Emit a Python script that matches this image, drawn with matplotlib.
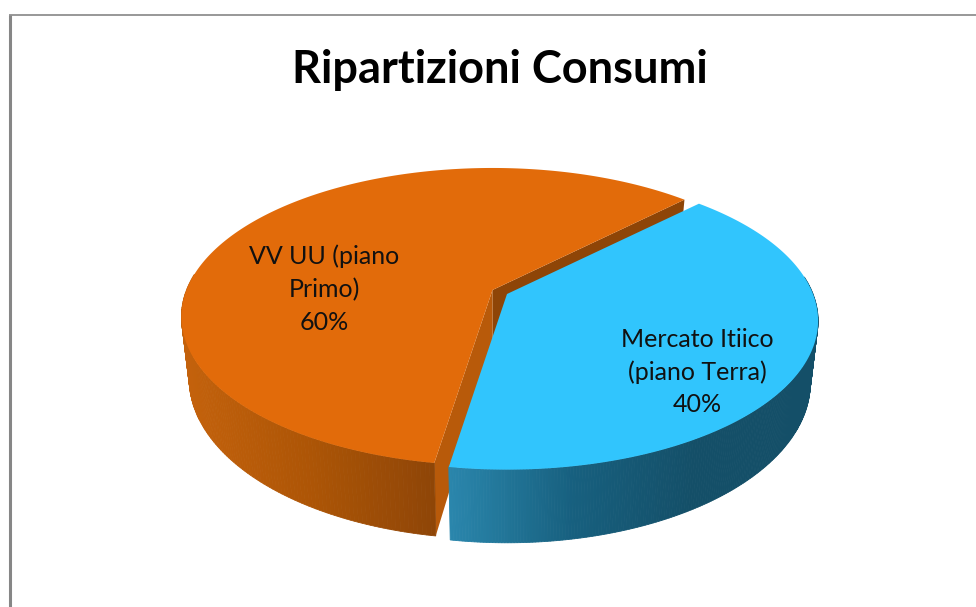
import matplotlib
matplotlib.use('Agg')
import matplotlib.pyplot as plt
from matplotlib.colors import LinearSegmentedColormap
import numpy as np

categories = ['VV UU (piano\nPrimo)', 'Mercato Itiico\n(piano Terra)']
values = [60, 40]
title = 'Ripartizioni Consumi'

plt.rcParams['font.family'] = ['Lato', 'DejaVu Sans']

top_colors = ['#E26B0A', '#31C5FD']
cut_colors = ['#B85A0A', '#1A6786']
back_color = '#8E4507'
side_maps = [
    LinearSegmentedColormap.from_list('o', ['#C4620C', '#AD5506', '#8E4507']),
    LinearSegmentedColormap.from_list('b', ['#2A86AC', '#17607F', '#144F68', '#144F68']),
]
apexes = [(492.5, 290), (507, 294)]
label_pos = [(324, 289), (697, 372)]

RX, RY, K, DEPTH = 306, 144, 0.18, 60
SHRINK = 0.025  # il disco di sotto e' un po' piu' stretto
start = 45


def project(angle, apex, drop=0.0):
    # disco in prospettiva: il fronte e' piu' grande del retro
    a = np.radians(angle)
    u, v = np.cos(a), np.sin(a)
    s = 1 / (1 + K * v)
    x = apex[0] + RX * u * s * (1 - SHRINK * drop)
    y = apex[1] - RY * v * s + drop * DEPTH * s
    return x, y


fig = plt.figure(figsize=(9.76, 6.07), dpi=100)
ax = fig.add_axes([0, 0, 1, 1])
ax.set_xlim(0, 976)
ax.set_ylim(607, 0)
ax.axis('off')

# cornice
ax.plot([9.5, 9.5], [607, 15], color='#868686', lw=2.2, solid_capstyle='butt')
ax.plot([8.5, 976], [14.5, 14.5], color='#868686', lw=1.2, solid_capstyle='butt')

ax.text(500, 70, title, fontsize=32.5, fontweight='bold', ha='center', va='center', color='black')

total = sum(values)
angles = [start]
for v in values:
    angles.append(angles[-1] + 360 * v / total)

for i, v in enumerate(values):
    a0, a1 = angles[i], angles[i + 1]
    apex = apexes[i]
    t = np.linspace(a0, a1, 300)
    x, y = project(t, apex)

    # pareti di taglio
    if i == 0:
        tx, ty = project(a0, apex)
        tb = project(a0, apex, drop=1)
        ax.fill([apex[0], tx, tb[0], apex[0]], [apex[1], ty, tb[1], apex[1] + DEPTH],
                color=back_color, lw=0)
        fx, fy = project(a1, apex)
        fb = project(a1, apex, drop=1)
        ax.fill([apex[0], fx, fb[0], apex[0]], [apex[1], fy, fb[1], apex[1] + DEPTH],
                color=cut_colors[0], lw=0)

    # parete esterna, solo la parte davanti
    xb, yb = project(t, apex, drop=1)
    xmin, xmax = x.min(), x.max()
    if i == 0:
        xmax = x[-1]
    else:
        xmin = x[0]
    for j in range(len(t) - 1):
        if np.sin(np.radians(t[j])) > 0.12:
            continue
        c = side_maps[i](np.clip((x[j] - xmin) / (xmax - xmin), 0, 1))
        ax.fill([x[j], x[j + 1], xb[j + 1], xb[j]], [y[j], y[j + 1], yb[j + 1], yb[j]],
                color=c, lw=0.6)

    ax.fill(np.r_[apex[0], x], np.r_[apex[1], y], color=top_colors[i], lw=0)

    ax.text(label_pos[i][0], label_pos[i][1], f'{categories[i]}\n{v}%', fontsize=18,
            ha='center', va='center', color='#111111', linespacing=1.5)

fig.savefig('out.png', dpi=100)
